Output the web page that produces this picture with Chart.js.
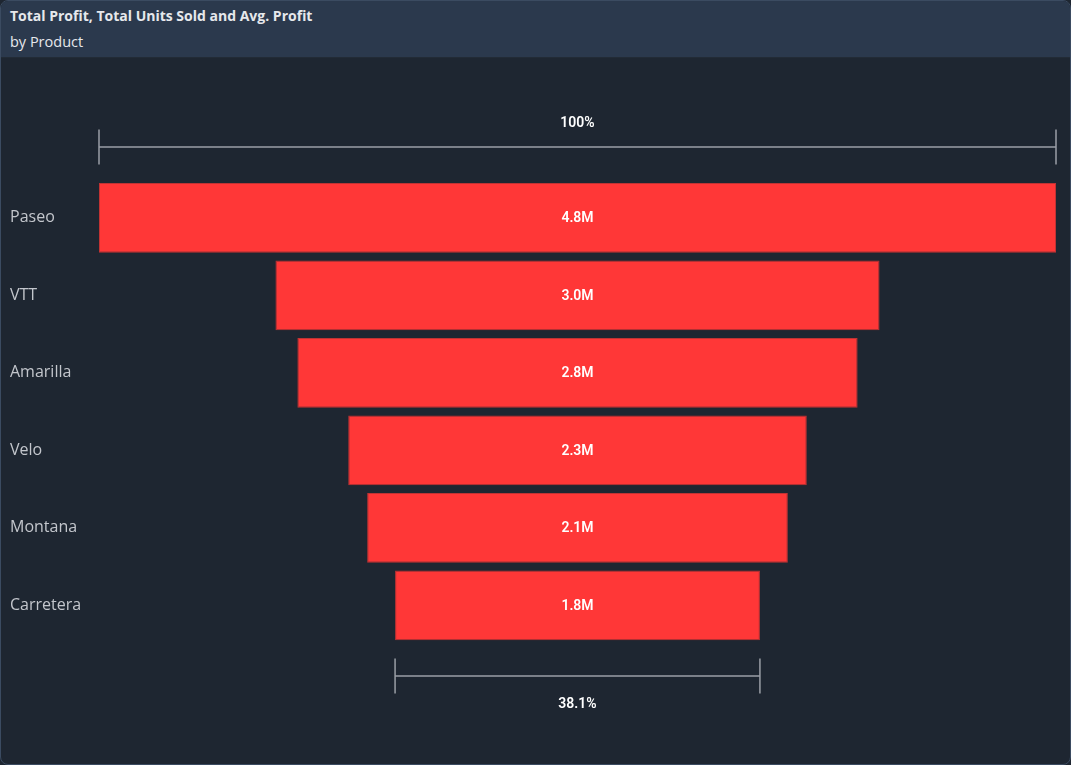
<!DOCTYPE html>
<html>
<head>
<meta charset="utf-8">
<script src="https://cdn.jsdelivr.net/npm/chart.js@4.4.0/dist/chart.umd.min.js"></script>
<style>
  html, body { margin:0; padding:0; background:#1e2631; width:1071px; height:765px; overflow:hidden; }
  #card { position:absolute; left:0; top:0; width:1069px; height:763px; border:1px solid #3b4b61; border-radius:8px; background:#1e2631; overflow:hidden; }
  #hdr { position:absolute; left:0; top:0; width:1069px; height:56px; background:#2b394d; border-bottom:1px solid #222b36; }
  #t1 { position:absolute; left:9px; top:5px; font-family:"Open Sans", sans-serif; font-weight:700; font-size:14px; color:#e6e8ec; white-space:nowrap; }
  #t2 { position:absolute; left:9px; top:31px; font-family:"Open Sans", sans-serif; font-size:14.5px; color:#e6e8ec; white-space:nowrap; }
  #wrap { position:absolute; left:0; top:57px; width:1069px; height:706px; }
</style>
</head>
<body>
<div id="card">
  <div id="hdr">
    <div id="t1">Total Profit, Total Units Sold and Avg. Profit</div>
    <div id="t2">by Product</div>
  </div>
  <div id="wrap"><canvas id="c"></canvas></div>
</div>
<script>
const products = ["Paseo", "VTT", "Amarilla", "Velo", "Montana", "Carretera"];
const totalProfitM = [4.80, 3.03, 2.81, 2.30, 2.11, 1.83];

const maxVal = Math.max(...totalProfitM);
const floating = totalProfitM.map(v => [-v / 2, v / 2]);

const funnelPlugin = {
  id: 'funnelExtras',
  afterDatasetsDraw(chart) {
    const ctx = chart.ctx;
    const meta = chart.getDatasetMeta(0);
    const xs = chart.scales.x;
    ctx.save();
    ctx.fillStyle = '#ffffff';
    ctx.font = '600 14px Roboto, sans-serif';
    ctx.textAlign = 'center';
    ctx.textBaseline = 'middle';
    meta.data.forEach((bar, i) => {
      ctx.fillText(totalProfitM[i].toFixed(1) + 'M', (bar.x + bar.base) / 2, bar.y + 1);
    });
    const drawBracket = (v, yLine, yText, label) => {
      const x1 = xs.getPixelForValue(-v / 2), x2 = xs.getPixelForValue(v / 2);
      ctx.strokeStyle = '#9a9ea6';
      ctx.lineWidth = 1.5;
      ctx.beginPath();
      ctx.moveTo(x1, yLine); ctx.lineTo(x2, yLine);
      ctx.moveTo(x1, yLine - 17.5); ctx.lineTo(x1, yLine + 17.5);
      ctx.moveTo(x2, yLine - 17.5); ctx.lineTo(x2, yLine + 17.5);
      ctx.stroke();
      ctx.fillStyle = '#ffffff';
      ctx.font = '600 14px Roboto, sans-serif';
      ctx.fillText(label, (x1 + x2) / 2, yText);
    };
    const top = chart.chartArea.top, bottom = chart.chartArea.bottom;
    const first = totalProfitM[0], last = totalProfitM[totalProfitM.length - 1];
    drawBracket(first, top - 32, top - 56, '100%');
    drawBracket(last, bottom + 32, bottom + 60, (last / first * 100).toFixed(1) + '%');
    ctx.restore();
  }
};

new Chart(document.getElementById('c'), {
  type: 'bar',
  data: {
    labels: products,
    datasets: [{
      data: floating,
      backgroundColor: '#ff3737',
      borderColor: '#c03333',
      borderWidth: 1,
      borderSkipped: false,
      barPercentage: 1,
      categoryPercentage: 0.9
    }]
  },
  options: {
    indexAxis: 'y',
    responsive: true,
    maintainAspectRatio: false,
    animation: false,
    events: [],
    layout: { padding: { left: 9, right: 14, top: 121, bottom: 120 } },
    plugins: { legend: { display: false }, tooltip: { enabled: false } },
    scales: {
      x: { display: false, min: -maxVal / 2, max: maxVal / 2 },
      y: {
        display: true,
        grid: { display: false },
        border: { display: false },
        ticks: {
          crossAlign: 'far',
          padding: 0,
          color: '#c3c6cc',
          font: { family: '"Open Sans", sans-serif', size: 16 }
        },
        afterFit(scale) { scale.width = 89; }
      }
    }
  },
  plugins: [funnelPlugin]
});
</script>
</body>
</html>
